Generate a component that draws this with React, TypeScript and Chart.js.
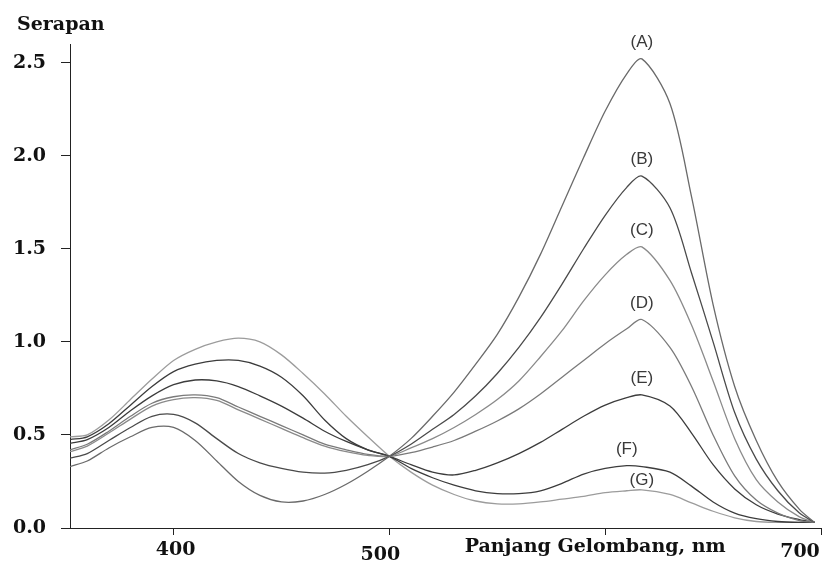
import { useEffect, useRef } from 'react';
import { Chart, registerables } from 'chart.js';

Chart.register(...registerables);

// Wavelength grid (nm)
const wavelengths = [
  352, 360, 370, 380, 390, 400, 410, 420, 430, 440, 450, 460, 470, 480, 490, 500,
  510, 520, 530, 540, 550, 560, 570, 580, 590, 600, 610, 617, 630, 640, 650, 660,
  670, 680, 690, 697,
];

// Absorbance (Serapan) of each curve
const serapanA = [
  0.33, 0.36, 0.43, 0.49, 0.54, 0.54, 0.47, 0.36, 0.25, 0.175, 0.14, 0.145, 0.18, 0.235, 0.305, 0.385,
  0.48, 0.6, 0.73, 0.88, 1.04, 1.24, 1.47, 1.73, 1.99, 2.24, 2.44, 2.52, 2.28, 1.78, 1.2, 0.76,
  0.47, 0.25, 0.1, 0.03,
];
const serapanB = [
  0.375, 0.4, 0.47, 0.54, 0.6, 0.61, 0.565, 0.48, 0.4, 0.35, 0.32, 0.3, 0.295, 0.31, 0.34, 0.385,
  0.45, 0.53, 0.61, 0.71, 0.83, 0.97, 1.13, 1.31, 1.5, 1.68, 1.83, 1.89, 1.72, 1.37, 1.0, 0.62,
  0.37, 0.2, 0.08, 0.03,
];
const serapanC = [
  0.41, 0.44, 0.51, 0.585, 0.655, 0.69, 0.7, 0.685, 0.635, 0.585, 0.535, 0.485, 0.44, 0.41, 0.39, 0.385,
  0.43, 0.48, 0.54, 0.61, 0.69, 0.79, 0.92, 1.06, 1.22, 1.36, 1.47, 1.51, 1.33, 1.09, 0.79, 0.48,
  0.26, 0.14, 0.06, 0.03,
];
const serapanD = [
  0.42, 0.45, 0.52, 0.6, 0.67, 0.705, 0.715, 0.7, 0.65, 0.6, 0.55, 0.5, 0.45, 0.42, 0.395, 0.385,
  0.405, 0.435, 0.47, 0.52, 0.575, 0.64, 0.72, 0.81, 0.9, 0.99, 1.07, 1.12, 0.97, 0.76, 0.5, 0.28,
  0.15, 0.08, 0.04, 0.03,
];
const serapanE = [
  0.455, 0.475, 0.54, 0.63, 0.71, 0.77, 0.795, 0.79, 0.76, 0.71, 0.655, 0.59, 0.52, 0.465, 0.42, 0.385,
  0.34, 0.3, 0.285, 0.31, 0.35, 0.4, 0.46, 0.53, 0.6, 0.66, 0.7, 0.715, 0.655, 0.51, 0.34, 0.21,
  0.125, 0.075, 0.045, 0.03,
];
const serapanF = [
  0.475, 0.49, 0.56, 0.66, 0.76, 0.84, 0.88, 0.9, 0.9, 0.87, 0.81, 0.71, 0.58, 0.48, 0.42, 0.385,
  0.32, 0.27, 0.23, 0.2, 0.185, 0.185, 0.2, 0.24, 0.29, 0.32, 0.335, 0.33, 0.3, 0.225, 0.14, 0.08,
  0.05, 0.035, 0.03, 0.03,
];
const serapanG = [
  0.49, 0.5, 0.58, 0.69, 0.8, 0.9, 0.96, 1.0, 1.02, 1.0, 0.93, 0.83, 0.72, 0.6, 0.49, 0.385,
  0.3, 0.23, 0.18, 0.145, 0.13, 0.13, 0.14, 0.155, 0.17, 0.19, 0.2, 0.205, 0.18, 0.135, 0.09, 0.055,
  0.035, 0.03, 0.03, 0.03,
];

const seriesNames = ['(A)', '(B)', '(C)', '(D)', '(E)', '(F)', '(G)'];
const seriesValues = [serapanA, serapanB, serapanC, serapanD, serapanE, serapanF, serapanG];
const seriesColors = ['#6a6a6a', '#4a4a4a', '#8a8a8a', '#7a7a7a', '#3c3c3c', '#3c3c3c', '#9c9c9c'];
const labelLift = [17, 17, 17, 16, 17, 16, 10];

const xTicks = [400, 500, 600, 700];
const xTickLabels = ['400', '500', '', '700'];
const xLabelShift = [2, -9, 0, -21];
const xLabelDrop = [27, 32, 0, 29];
const yTicks = [0, 0.5, 1.0, 1.5, 2.0, 2.5];

const xTitle = 'Panjang Gelombang, nm';
const yTitle = 'Serapan';
const serifBold = 'bold 19px "DejaVu Serif"';

const textPlugin = {
  id: 'textPlugin',
  afterDraw(chart: any) {
    const ctx = chart.ctx;
    const xs = chart.scales.x;
    const ys = chart.scales.y;
    const area = chart.chartArea;
    ctx.save();
    // curve labels above the right-hand peaks
    ctx.font = '17px "Liberation Sans"';
    ctx.fillStyle = '#3a3a3a';
    ctx.textAlign = 'center';
    ctx.textBaseline = 'middle';
    seriesValues.forEach((vals, i) => {
      let k = -1;
      for (let j = 0; j < wavelengths.length; j++) {
        if (wavelengths[j] >= 550 && (k < 0 || vals[j] > vals[k])) k = j;
      }
      const px = xs.getPixelForValue(wavelengths[k]);
      const py = ys.getPixelForValue(vals[k]) - labelLift[i];
      ctx.fillText(seriesNames[i], px, py);
    });
    // x tick labels
    ctx.font = serifBold;
    ctx.fillStyle = '#111';
    ctx.textBaseline = 'alphabetic';
    xTicks.forEach((v, i) => {
      if (!xTickLabels[i]) return;
      ctx.fillText(xTickLabels[i], xs.getPixelForValue(v) + xLabelShift[i], area.bottom + xLabelDrop[i]);
    });
    // x axis title in place of the 600 label
    ctx.fillText(xTitle, xs.getPixelForValue(600) - 10, area.bottom + 24);
    // y axis title
    ctx.textAlign = 'left';
    ctx.fillText(yTitle, 17, area.top - 14);
    ctx.restore();
  },
};

export default function App() {
  const ref = useRef<HTMLCanvasElement>(null);
  useEffect(() => {
    const chart = new Chart(ref.current as HTMLCanvasElement, {
      type: 'line',
      data: {
        datasets: seriesValues.map((vals, i) => ({
          label: seriesNames[i],
          data: vals.map((v, j) => ({ x: wavelengths[j], y: v })),
          borderColor: seriesColors[i],
          borderWidth: 1.3,
          pointRadius: 0,
          tension: 0.3,
          fill: false,
        })),
      },
      options: {
        responsive: false,
        animation: false,
        devicePixelRatio: 1,
        layout: { padding: { top: 44, right: 9, left: 0, bottom: 0 } },
        plugins: { legend: { display: false }, tooltip: { enabled: false } },
        scales: {
          x: {
            type: 'linear',
            min: 352,
            max: 700,
            afterBuildTicks: (s: any) => {
              s.ticks = xTicks.map((v) => ({ value: v }));
            },
            afterFit: (s: any) => {
              s.height = 33;
            },
            ticks: { display: false },
            grid: { drawOnChartArea: false, drawTicks: true, tickLength: 7, color: '#222' },
            border: { display: true, color: '#222', width: 1 },
          },
          y: {
            type: 'linear',
            min: 0,
            max: 2.6,
            afterBuildTicks: (s: any) => {
              s.ticks = yTicks.map((v) => ({ value: v }));
            },
            afterFit: (s: any) => {
              s.width = 70;
            },
            ticks: {
              callback: (v: any) => Number(v).toFixed(1),
              font: { family: '"DejaVu Serif"', size: 19, weight: 'bold' },
              color: '#111',
              padding: 15,
            },
            grid: { drawOnChartArea: false, drawTicks: true, tickLength: 9, color: '#222' },
            border: { display: true, color: '#222', width: 1 },
          },
        },
      },
      plugins: [textPlugin],
    });
    return () => chart.destroy();
  }, []);
  return (
    <div style={{ position: 'absolute', left: 0, top: 0, width: 830, height: 561, background: '#fff' }}>
      <canvas ref={ref} width={830} height={561} style={{ display: 'block' }} />
    </div>
  );
}
